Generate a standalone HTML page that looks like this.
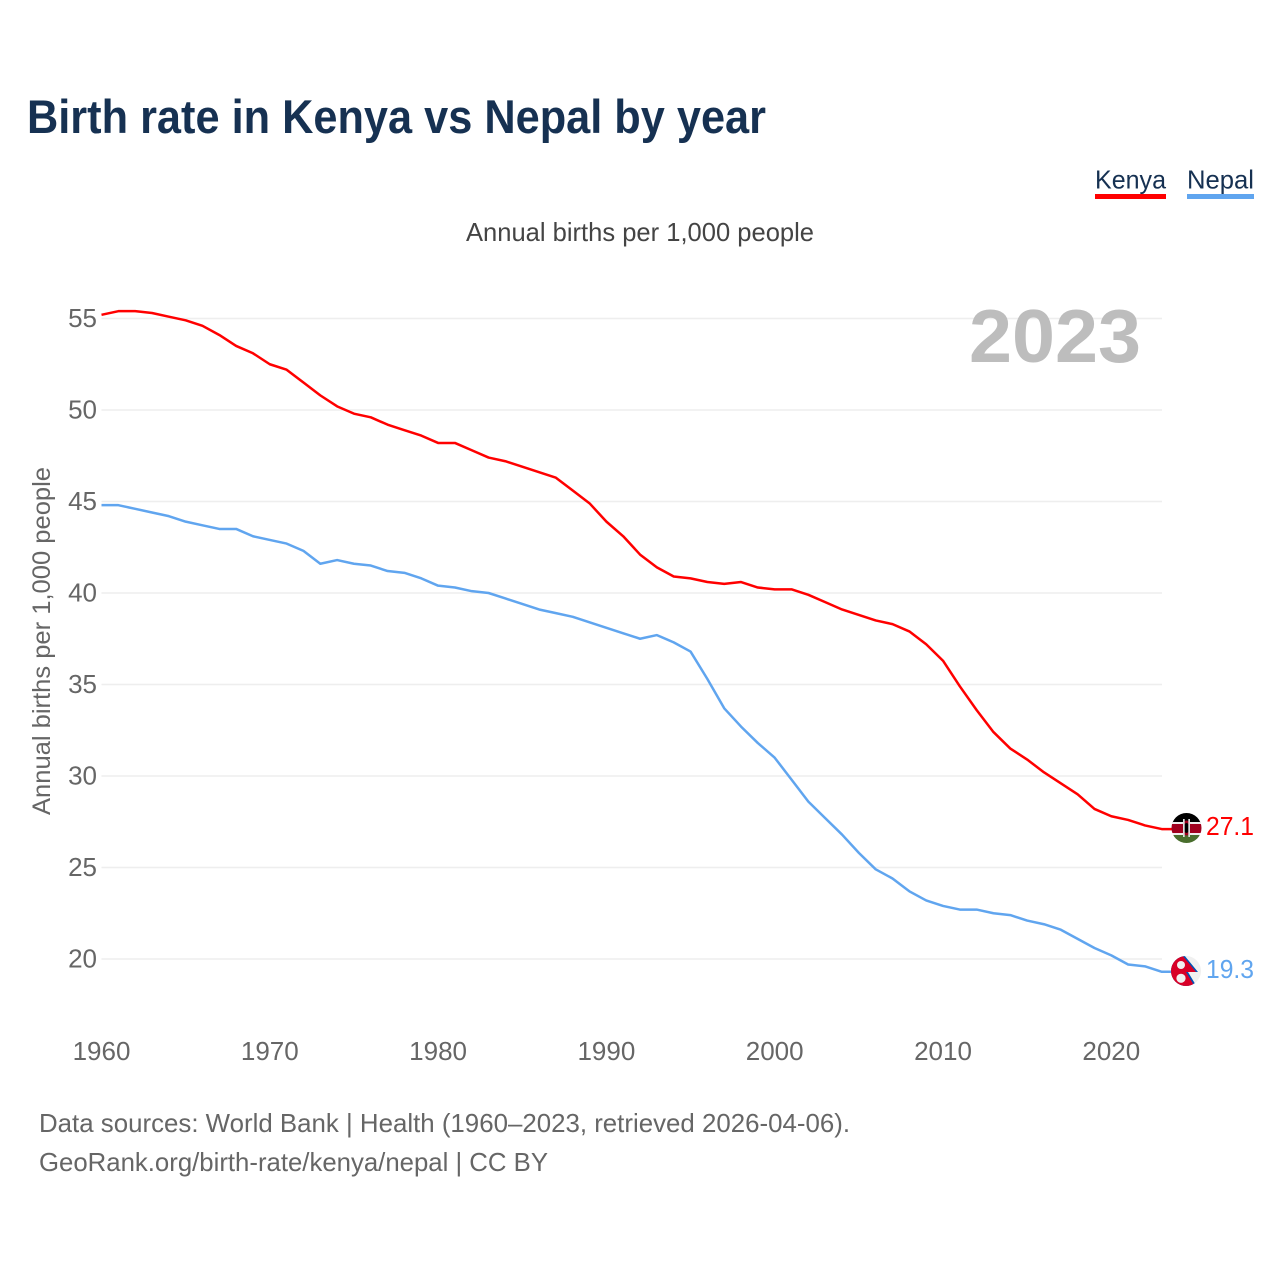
<!DOCTYPE html>
<html lang="en">
<head>
<meta charset="utf-8">
<title>Birth rate in Kenya vs Nepal by year</title>
<style>
html,body{margin:0;padding:0;background:#fff;width:1280px;height:1280px;overflow:hidden}
svg{display:block}
text{font-family:"Liberation Sans",sans-serif}
</style>
</head>
<body>
<svg id="chart" width="1280" height="1280" viewBox="0 0 1280 1280" xmlns="http://www.w3.org/2000/svg">
  <defs>
    <clipPath id="kenya-clip"><circle cx="1186.5" cy="828" r="15"/></clipPath>
    <clipPath id="nepal-clip"><circle cx="1186" cy="971" r="15"/></clipPath>
  </defs>
  <text x="27" y="133" font-size="47" font-weight="700" fill="#163152" textLength="739" lengthAdjust="spacingAndGlyphs">Birth rate in Kenya vs Nepal by year</text>

  <g>
    <text x="1095" y="188.5" font-size="26" fill="#163152" textLength="71" lengthAdjust="spacingAndGlyphs">Kenya</text>
    <rect x="1095" y="194" width="71" height="5" fill="#ff0000"/>
  </g>
  <g>
    <text x="1187" y="188.5" font-size="26" fill="#163152" textLength="67" lengthAdjust="spacingAndGlyphs">Nepal</text>
    <rect x="1187" y="194" width="67" height="5" fill="#60a5ef"/>
  </g>

  <text x="466" y="241" font-size="26" fill="#444444" textLength="348" lengthAdjust="spacingAndGlyphs">Annual births per 1,000 people</text>

  <g id="grid"></g>
  <g id="y-ticks"></g>
  <g id="x-ticks"></g>

  <text transform="translate(50,815) rotate(-90)" x="0" y="0" font-size="25" fill="#666666" textLength="348" lengthAdjust="spacingAndGlyphs">Annual births per 1,000 people</text>

  <text x="969" y="362" font-size="75" font-weight="700" fill="#bdbdbd" textLength="172" lengthAdjust="spacingAndGlyphs">2023</text>

  <g id="series"></g>

  <g clip-path="url(#kenya-clip)">
    <rect x="1170" y="812" width="33" height="11" fill="#000000"/>
    <rect x="1170" y="822" width="33" height="2" fill="#eeeeee"/>
    <rect x="1170" y="824" width="33" height="9" fill="#a0001e"/>
    <rect x="1170" y="833" width="33" height="2" fill="#eeeeee"/>
    <rect x="1170" y="835" width="33" height="9" fill="#496e2d"/>
    <ellipse cx="1186.5" cy="828" rx="4.5" ry="7.5" fill="#a0001e"/>
    <ellipse cx="1186.5" cy="828" rx="3" ry="5" fill="#000000"/>
    <rect x="1183" y="819" width="1.7" height="18" fill="#dddddd"/>
    <rect x="1188.3" y="819" width="1.7" height="18" fill="#dddddd"/>
  </g>

  <g clip-path="url(#nepal-clip)">
    <rect x="1170" y="955" width="32" height="32" fill="#f0f0f0"/>
    <polygon points="1170,955 1170,987 1197,987 1188,972 1198,972 1184,955" fill="#0052b4"/>
    <polygon points="1170,955 1170,987 1195,987 1186,972 1196,972 1182,955" fill="#d80027"/>
    <circle cx="1181" cy="965" r="4" fill="#f0f0f0"/>
    <circle cx="1181" cy="978.3" r="4.6" fill="#f0f0f0"/>
  </g>

  <text x="1206" y="835" font-size="26" fill="#ff0000" textLength="48" lengthAdjust="spacingAndGlyphs">27.1</text>
  <text x="1206" y="978" font-size="26" fill="#60a5ef" textLength="48" lengthAdjust="spacingAndGlyphs">19.3</text>

  <text x="39" y="1132" font-size="26" fill="#666666" textLength="811" lengthAdjust="spacingAndGlyphs">Data sources: World Bank | Health (1960–2023, retrieved 2026-04-06).</text>
  <text x="39" y="1171" font-size="26" fill="#666666" textLength="509" lengthAdjust="spacingAndGlyphs">GeoRank.org/birth-rate/kenya/nepal | CC BY</text>
</svg>
<script>
const years = [1960,1961,1962,1963,1964,1965,1966,1967,1968,1969,1970,1971,1972,1973,1974,1975,1976,1977,1978,1979,1980,1981,1982,1983,1984,1985,1986,1987,1988,1989,1990,1991,1992,1993,1994,1995,1996,1997,1998,1999,2000,2001,2002,2003,2004,2005,2006,2007,2008,2009,2010,2011,2012,2013,2014,2015,2016,2017,2018,2019,2020,2021,2022,2023];
const kenyaValues = [55.2,55.4,55.4,55.3,55.1,54.9,54.6,54.1,53.5,53.1,52.5,52.2,51.5,50.8,50.2,49.8,49.6,49.2,48.9,48.6,48.2,48.2,47.8,47.4,47.2,46.9,46.6,46.3,45.6,44.9,43.9,43.1,42.1,41.4,40.9,40.8,40.6,40.5,40.6,40.3,40.2,40.2,39.9,39.5,39.1,38.8,38.5,38.3,37.9,37.2,36.3,34.9,33.6,32.4,31.5,30.9,30.2,29.6,29.0,28.2,27.8,27.6,27.3,27.1];
const nepalValues = [44.8,44.8,44.6,44.4,44.2,43.9,43.7,43.5,43.5,43.1,42.9,42.7,42.3,41.6,41.8,41.6,41.5,41.2,41.1,40.8,40.4,40.3,40.1,40.0,39.7,39.4,39.1,38.9,38.7,38.4,38.1,37.8,37.5,37.7,37.3,36.8,35.3,33.7,32.7,31.8,31.0,29.8,28.6,27.7,26.8,25.8,24.9,24.4,23.7,23.2,22.9,22.7,22.7,22.5,22.4,22.1,21.9,21.6,21.1,20.6,20.2,19.7,19.6,19.3];
const yTickLabels = [20,25,30,35,40,45,50,55];
const xTickLabels = [1960,1970,1980,1990,2000,2010,2020];

const SVG_NS = 'http://www.w3.org/2000/svg';
function xScale(year){ return 101.5 + (year - 1960) * 16.83; }
function yScale(value){ return 959 - (value - 20) * 18.3; }

const gridGroup = document.getElementById('grid');
const yTickGroup = document.getElementById('y-ticks');
const xTickGroup = document.getElementById('x-ticks');
const seriesGroup = document.getElementById('series');

yTickLabels.forEach(function(tick){
  const line = document.createElementNS(SVG_NS, 'line');
  
  
  line.setAttribute('x1', xScale(1960));
  line.setAttribute('x2', 1162);
  line.setAttribute('y1', yScale(tick));
  line.setAttribute('y2', yScale(tick));
  line.setAttribute('stroke', '#eeeeee');
  line.setAttribute('stroke-width', '1.5');
  gridGroup.appendChild(line);

  const label = document.createElementNS(SVG_NS, 'text');
  
  
  label.setAttribute('x', 97);
  label.setAttribute('y', yScale(tick) + 8.5);
  label.setAttribute('text-anchor', 'end');
  label.setAttribute('font-size', '26');
  label.setAttribute('fill', '#666666');
  label.textContent = tick;
  yTickGroup.appendChild(label);
});

xTickLabels.forEach(function(tick){
  const label = document.createElementNS(SVG_NS, 'text');
  
  
  label.setAttribute('x', xScale(tick));
  label.setAttribute('y', 1060);
  label.setAttribute('text-anchor', 'middle');
  label.setAttribute('font-size', '26');
  label.setAttribute('fill', '#666666');
  label.textContent = tick;
  xTickGroup.appendChild(label);
});

function linePath(values){
  const points = values.map(function(value, i){
    return (i ? 'L' : 'M') + xScale(years[i]).toFixed(2) + ' ' + yScale(value).toFixed(2);
  });
  points.push('L1172 ' + yScale(values[values.length - 1]).toFixed(2));
  return points.join(' ');
}

const nepalLine = document.createElementNS(SVG_NS, 'path');


nepalLine.setAttribute('d', linePath(nepalValues));
nepalLine.setAttribute('fill', 'none');
nepalLine.setAttribute('stroke', '#60a5ef');
nepalLine.setAttribute('stroke-width', '2.5');
nepalLine.setAttribute('stroke-linejoin', 'round');
seriesGroup.appendChild(nepalLine);

const kenyaLine = document.createElementNS(SVG_NS, 'path');


kenyaLine.setAttribute('d', linePath(kenyaValues));
kenyaLine.setAttribute('fill', 'none');
kenyaLine.setAttribute('stroke', '#ff0000');
kenyaLine.setAttribute('stroke-width', '2.5');
kenyaLine.setAttribute('stroke-linejoin', 'round');
seriesGroup.appendChild(kenyaLine);
</script>
</body>
</html>
